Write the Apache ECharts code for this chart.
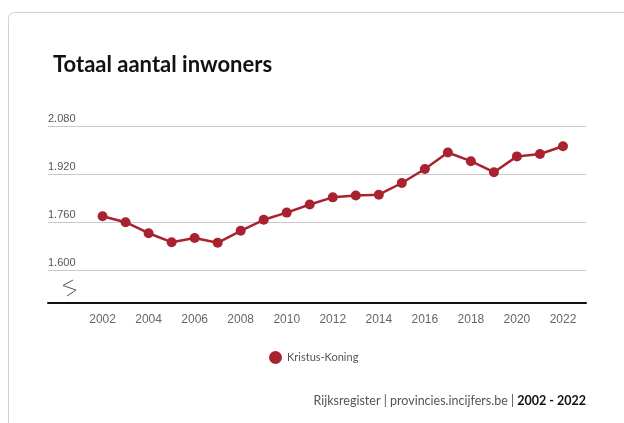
<!DOCTYPE html>
<html>
<head>
<meta charset="utf-8">
<script src="https://cdn.jsdelivr.net/npm/echarts@6/dist/echarts.min.js"></script>
<style>
html,body{margin:0;padding:0;background:#fff;}
#chart{width:624px;height:423px;}
</style>
</head>
<body>
<div id="chart"></div>
<script>
var years = [2002,2003,2004,2005,2006,2007,2008,2009,2010,2011,2012,2013,2014,2015,2016,2017,2018,2019,2020,2021,2022];
var inwoners = [1780,1760,1723,1693,1707,1691,1731,1768,1792,1819,1843,1849,1852,1891,1938,1993,1964,1927,1980,1988,2014];
var yTicks = [1600,1760,1920,2080];
var xTicks = [2002,2004,2006,2008,2010,2012,2014,2016,2018,2020,2022];
var seriesName = 'Kristus-Koning';

function fmt(v){ return String(v).replace(/\B(?=(\d{3})+(?!\d))/g,'.'); }

var chart = echarts.init(document.getElementById('chart'), null, {renderer:'canvas'});
chart.setOption({
  animation:false,
  backgroundColor:'#fff',
  title:{
    text:'Totaal aantal inwoners',
    left:48, top:49,
    textStyle:{fontFamily:'Lato', fontWeight:'bold', fontSize:22, color:'#111'}
  },
  legend:{
    data:[seriesName],
    top:346, left:264,
    icon:'circle', itemWidth:13, itemHeight:13, itemGap:2,
    textStyle:{fontFamily:'Lato', fontSize:11, color:'#555'}
  },
  grid:{left:48, right:38, top:126.5, bottom:153},
  xAxis:{
    type:'value', min:1999.63, max:2023,
    offset:33,
    axisLine:{show:true, lineStyle:{color:'#111', width:2}},
    axisTick:{show:false},
    splitLine:{show:false},
    axisLabel:{customValues:xTicks, formatter:function(v){return String(v);}, margin:11,
      fontFamily:'Liberation Sans', fontSize:12, color:'#666'}
  },
  yAxis:{
    type:'value', min:1600, max:2080, interval:160,
    axisLine:{show:false}, axisTick:{show:false},
    splitLine:{lineStyle:{color:'#c8c8c8', width:1}},
    axisLabel:{inside:true, margin:0, verticalAlign:'bottom', padding:[0,0,2,0],
      formatter:function(v){return fmt(v);},
      fontFamily:'Liberation Sans', fontSize:11, color:'#555'}
  },
  graphic:[
    {type:'rect', z:-10, shape:{x:8.5, y:12.5, width:700, height:500, r:6},
     style:{fill:'#fff', stroke:'#cfd0dc', lineWidth:1}},
    {type:'polyline', shape:{points:[[73,280],[63,285.5],[76,290],[67,296]]},
     style:{stroke:'#555', lineWidth:1, fill:null}},
    {type:'text', right:38, top:394,
     style:{text:'{a|Rijksregister | provincies.incijfers.be | }{b|2002 - 2022}',
       rich:{a:{fontFamily:'Lato', fontSize:12.5, fill:'#555'},
             b:{fontFamily:'Lato', fontSize:12.5, fontWeight:'bold', fill:'#111'}}}}
  ],
  series:[{
    name:seriesName, type:'line',
    data: years.map(function(y,i){return [y, inwoners[i]];}),
    symbol:'circle', symbolSize:10,
    itemStyle:{color:'#a8232f'},
    lineStyle:{color:'#a8232f', width:2.5}
  }]
});
</script>
</body>
</html>
